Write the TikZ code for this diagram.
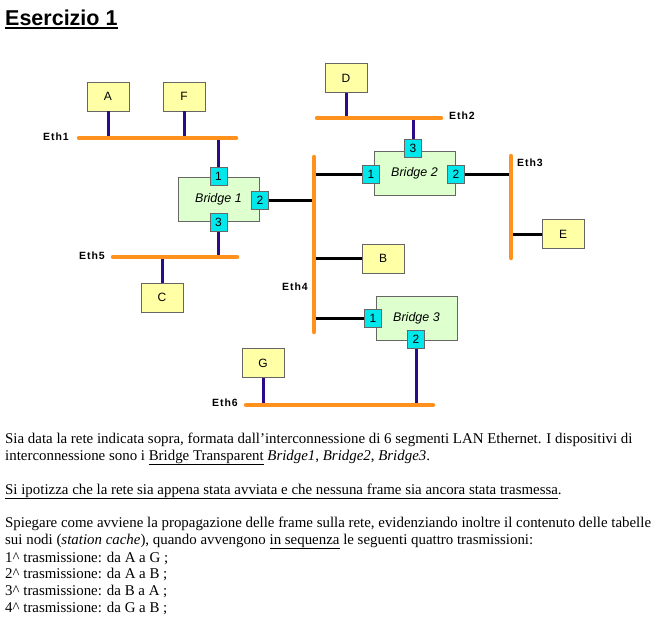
\documentclass[tikz,border=0pt]{standalone}
\usepackage{fontspec}
\setmainfont{Liberation Serif}
\setsansfont{Liberation Sans}
\newfontfamily\ethfont[LetterSpace=9.0]{Liberation Sans}
\definecolor{ethorange}{RGB}{255,145,28}
\definecolor{stubblue}{RGB}{45,10,135}
\definecolor{hostfill}{RGB}{255,255,166}
\definecolor{bridgefill}{RGB}{222,255,206}
\definecolor{portfill}{RGB}{0,232,236}
\begin{document}
\begin{tikzpicture}[x=1pt,y=-1pt,
  host/.style={draw=black!60,fill=hostfill,minimum width=42,minimum height=29,inner sep=0,font=\sffamily\fontsize{12}{14}\selectfont},
  bridge/.style={draw=black!60,fill=bridgefill,minimum width=81,minimum height=44,inner sep=0,font=\sffamily\itshape\fontsize{12.5}{14}\selectfont},
  port/.style={draw=black!60,fill=portfill,minimum width=17,minimum height=18,inner sep=0,font=\sffamily\fontsize{12}{14}\selectfont},
  eth/.style={ethorange,line width=4.5,line cap=round},
  stub/.style={stubblue,line width=3},
  wire/.style={black,line width=3},
  ethlabel/.style={inner sep=0,font=\ethfont\bfseries\fontsize{10.5}{12}\selectfont},
  txt/.style={anchor=base west,inner sep=0,font=\fontsize{14.9}{17}\selectfont}]
\useasboundingbox (0,0) rectangle (653,616);

\node[anchor=base west,inner sep=0,font=\sffamily\bfseries\fontsize{21.5}{24}\selectfont] (title) at (5,25) {Esercizio 1};
\draw[line width=2pt] ([yshift=-2.8pt]title.base west) -- ([yshift=-2.8pt]title.base east);

\coordinate (e1a) at (79,138);  \coordinate (e1b) at (236,138);
\coordinate (e2a) at (317,118); \coordinate (e2b) at (441,118);
\coordinate (e3a) at (511,156); \coordinate (e3b) at (511,258);
\coordinate (e4a) at (314,157); \coordinate (e4b) at (314,332);
\coordinate (e5a) at (113,257); \coordinate (e5b) at (237,257);
\coordinate (e6a) at (246,405); \coordinate (e6b) at (433,405);

\node[host] (A) at (108,96.5) {A};
\node[host] (F) at (184,96.5) {F};
\node[host] (D) at (346,78) {D};
\node[host] (C) at (162,297.5) {C};
\node[host] (B) at (383,258.5) {B};
\node[host] (E) at (563,234) {E};
\node[host] (G) at (263,363) {G};

\node[bridge] (br1) at (218.5,199) {Bridge 1};
\node[bridge] (br2) at (414.5,173.5) {Bridge 2};
\node[bridge] (br3) at (416.5,318) {Bridge 3};

\node[port] (br1p1) at (218.5,176) {1};
\node[port] (br1p2) at (260,200.5) {2};
\node[port] (br1p3) at (218.5,222.5) {3};
\node[port] (br2p1) at (371,174) {1};
\node[port] (br2p2) at (456,174) {2};
\node[port] (br2p3) at (413,148) {3};
\node[port] (br3p1) at (373,318) {1};
\node[port] (br3p2) at (416,339.5) {2};

\draw[stub] (A.south) -- (A.south |- e1a);
\draw[stub] (F.south) -- (F.south |- e1a);
\draw[stub] (br1p1.north) -- (br1p1.north |- e1a);
\draw[stub] (br1p3.south) -- (br1p3.south |- e5a);
\draw[stub] (C.north) -- (C.north |- e5a);
\draw[stub] (D.south) -- (D.south |- e2a);
\draw[stub] (br2p3.north) -- (br2p3.north |- e2a);
\draw[stub] (br3p2.south) -- (br3p2.south |- e6a);
\draw[stub] (G.south) -- (G.south |- e6a);

\draw[wire] (br1p2.east) -- (br1p2.east -| e4a);
\draw[wire] (br2p1.west) -- (br2p1.west -| e4a);
\draw[wire] (B.west) -- (B.west -| e4a);
\draw[wire] (br3p1.west) -- (br3p1.west -| e4a);
\draw[wire] (br2p2.east) -- (br2p2.east -| e3a);
\draw[wire] (E.west) -- (E.west -| e3a);

\draw[eth] (e1a) -- (e1b);
\draw[eth] (e2a) -- (e2b);
\draw[eth] (e3a) -- (e3b);
\draw[eth] (e4a) -- (e4b);
\draw[eth] (e5a) -- (e5b);
\draw[eth] (e6a) -- (e6b);

\node[ethlabel,anchor=east] (eth1) at (69,137) {Eth1};
\node[ethlabel,anchor=west] (eth2) at (449,116) {Eth2};
\node[ethlabel,anchor=west] (eth3) at (517,163) {Eth3};
\node[ethlabel,anchor=east] (eth4) at (308,287) {Eth4};
\node[ethlabel,anchor=east] (eth5) at (105,256) {Eth5};
\node[ethlabel,anchor=east] (eth6) at (238,403) {Eth6};

\node[txt] (t1) at (5,443) {Sia data la rete indicata sopra, formata dall’interconnessione di 6 segmenti LAN Ethernet. I dispositivi di};
\node[txt] (t2) at (5,460) {interconnessione sono i \underline{Bridge Transparent} \textit{Bridge1}, \textit{Bridge2}, \textit{Bridge3}.};
\node[txt] (t3) at (5,494) {\underline{Si ipotizza che la rete sia appena stata avviata e che nessuna frame sia ancora stata trasmessa}.};
\node[txt] (t4) at (5,527) {Spiegare come avviene la propagazione delle frame sulla rete, evidenziando inoltre il contenuto delle tabelle};
\node[txt] (t5) at (5,544) {sui nodi (\textit{station cache}), quando avvengono \underline{in sequenza} le seguenti quattro trasmissioni:};
\node[txt] (t6) at (5,562) {1\textasciicircum{} trasmissione: da A a G ;};
\node[txt] (t7) at (5,578) {2\textasciicircum{} trasmissione: da A a B ;};
\node[txt] (t8) at (5,595) {3\textasciicircum{} trasmissione: da B a A ;};
\node[txt] (t9) at (5,612) {4\textasciicircum{} trasmissione: da G a B ;};
\end{tikzpicture}
\end{document}
